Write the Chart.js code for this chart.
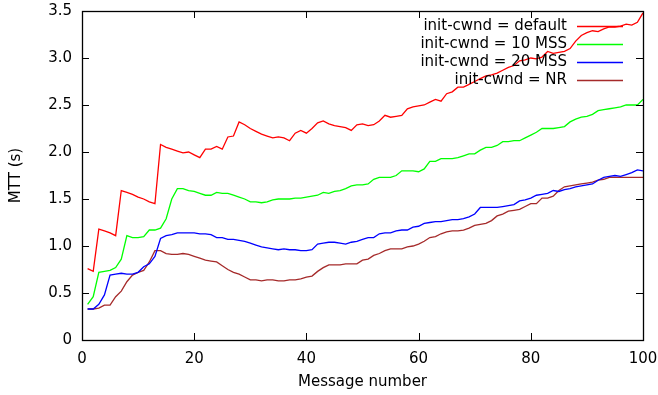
<!DOCTYPE html>
<html>
<head>
<meta charset="utf-8">
<script src="https://cdn.jsdelivr.net/npm/chart.js@4/dist/chart.umd.min.js"></script>
<style>
  html, body { margin: 0; padding: 0; background: #fff; }
  #wrap { width: 658px; height: 395px; }
</style>
</head>
<body>
<div id="wrap"><canvas id="chart" width="658" height="395"></canvas></div>
<script>
// message numbers 1..100
const messages = Array.from({ length: 100 }, (_, i) => i + 1)

const seriesLabels = ['init-cwnd = default', 'init-cwnd = 10 MSS', 'init-cwnd = 20 MSS', 'init-cwnd = NR']
const seriesColors = ['#ff0000', '#00ff00', '#0000ff', '#a52a2a']

const mttDefault = [
  0.76, 0.73, 1.18, 1.16, 1.14, 1.11, 1.59, 1.57, 1.55, 1.52,
  1.50, 1.47, 1.45, 2.08, 2.05, 2.03, 2.01, 1.99, 2.00, 1.97,
  1.94, 2.03, 2.03, 2.06, 2.03, 2.16, 2.17, 2.32, 2.29, 2.25,
  2.22, 2.19, 2.17, 2.15, 2.16, 2.15, 2.12, 2.20, 2.23, 2.20,
  2.25, 2.31, 2.33, 2.30, 2.28, 2.27, 2.26, 2.23, 2.29, 2.30,
  2.28, 2.29, 2.33, 2.39, 2.37, 2.38, 2.39, 2.46, 2.48, 2.49,
  2.50, 2.53, 2.56, 2.54, 2.62, 2.64, 2.69, 2.69, 2.72, 2.75,
  2.78, 2.81, 2.82, 2.84, 2.87, 2.90, 2.92, 2.97, 2.98, 3.00,
  2.99, 3.01, 3.07, 3.05, 3.06, 3.07, 3.10, 3.18, 3.24, 3.27,
  3.29, 3.28, 3.31, 3.33, 3.33, 3.34, 3.36, 3.35, 3.38, 3.48
]
const mtt10 = [
  0.38, 0.46, 0.72, 0.73, 0.74, 0.77, 0.86, 1.11, 1.09, 1.09,
  1.10, 1.17, 1.17, 1.19, 1.29, 1.50, 1.61, 1.61, 1.59, 1.58,
  1.56, 1.54, 1.54, 1.57, 1.56, 1.56, 1.54, 1.52, 1.50, 1.47,
  1.47, 1.46, 1.47, 1.49, 1.50, 1.50, 1.50, 1.51, 1.51, 1.52,
  1.53, 1.54, 1.57, 1.56, 1.58, 1.59, 1.61, 1.64, 1.65, 1.65,
  1.66, 1.71, 1.73, 1.73, 1.73, 1.75, 1.80, 1.80, 1.80, 1.79,
  1.82, 1.90, 1.90, 1.93, 1.93, 1.93, 1.94, 1.96, 1.98, 1.98,
  2.02, 2.05, 2.05, 2.07, 2.11, 2.11, 2.12, 2.12, 2.15, 2.18,
  2.21, 2.25, 2.25, 2.25, 2.26, 2.27, 2.32, 2.35, 2.37, 2.38,
  2.40, 2.44, 2.45, 2.46, 2.47, 2.48, 2.50, 2.50, 2.50, 2.56
]
const mtt20 = [
  0.33, 0.33, 0.38, 0.48, 0.69, 0.70, 0.71, 0.70, 0.70, 0.72,
  0.78, 0.81, 0.89, 1.08, 1.11, 1.12, 1.14, 1.14, 1.14, 1.14,
  1.13, 1.13, 1.12, 1.09, 1.09, 1.07, 1.07, 1.06, 1.05, 1.03,
  1.01, 0.99, 0.98, 0.97, 0.96, 0.97, 0.96, 0.96, 0.95, 0.95,
  0.96, 1.02, 1.03, 1.04, 1.04, 1.03, 1.02, 1.04, 1.05, 1.07,
  1.09, 1.09, 1.13, 1.14, 1.14, 1.16, 1.17, 1.17, 1.20, 1.21,
  1.24, 1.25, 1.26, 1.26, 1.27, 1.28, 1.28, 1.29, 1.31, 1.34,
  1.41, 1.41, 1.41, 1.41, 1.42, 1.43, 1.44, 1.48, 1.49, 1.51,
  1.54, 1.55, 1.56, 1.59, 1.58, 1.60, 1.61, 1.63, 1.64, 1.65,
  1.66, 1.70, 1.73, 1.74, 1.75, 1.74, 1.76, 1.78, 1.81, 1.80
]
const mttNR = [
  0.33, 0.33, 0.34, 0.37, 0.37, 0.46, 0.52, 0.62, 0.69, 0.72,
  0.74, 0.83, 0.95, 0.95, 0.92, 0.91, 0.91, 0.92, 0.91, 0.89,
  0.87, 0.85, 0.84, 0.83, 0.79, 0.75, 0.72, 0.70, 0.67, 0.64,
  0.64, 0.63, 0.64, 0.64, 0.63, 0.63, 0.64, 0.64, 0.65, 0.67,
  0.68, 0.73, 0.77, 0.80, 0.80, 0.80, 0.81, 0.81, 0.81, 0.85,
  0.86, 0.90, 0.92, 0.95, 0.97, 0.97, 0.97, 0.99, 1.00, 1.02,
  1.05, 1.09, 1.10, 1.13, 1.15, 1.16, 1.16, 1.17, 1.19, 1.22,
  1.23, 1.24, 1.27, 1.32, 1.34, 1.37, 1.38, 1.39, 1.42, 1.45,
  1.45, 1.51, 1.51, 1.53, 1.59, 1.63, 1.64, 1.65, 1.66, 1.67,
  1.68, 1.70, 1.71, 1.73, 1.73, 1.73, 1.73, 1.73, 1.73, 1.73
]

const xTicks = [0, 20, 40, 60, 80, 100]
const yTicks = [0, 0.5, 1, 1.5, 2, 2.5, 3, 3.5]

const FONT = 'DejaVu Sans'
const FONT_SIZE = 15

function toPoints(values) {
  return values.map((v, i) => ({ x: messages[i], y: v }))
}

// gnuplot-like frame: box + inward ticks on all four sides, legend top right
const framePlugin = {
  id: 'frame',
  afterDatasetsDraw(chart) {
    const { ctx, chartArea: a, scales } = chart
    const len = 7
    ctx.save()
    ctx.strokeStyle = '#000'
    ctx.lineWidth = 1
    ctx.beginPath()
    xTicks.forEach(t => {
      const px = Math.round(scales.x.getPixelForValue(t)) + 0.5
      ctx.moveTo(px, a.bottom); ctx.lineTo(px, a.bottom - len)
      ctx.moveTo(px, a.top); ctx.lineTo(px, a.top + len)
    })
    yTicks.forEach(t => {
      const py = Math.round(scales.y.getPixelForValue(t)) + 0.5
      ctx.moveTo(a.left, py); ctx.lineTo(a.left + len, py)
      ctx.moveTo(a.right, py); ctx.lineTo(a.right - len, py)
    })
    ctx.stroke()
    ctx.lineWidth = 1.3
    ctx.strokeRect(Math.round(a.left) + 0.5, Math.round(a.top) + 0.5,
      Math.round(a.right - a.left), Math.round(a.bottom - a.top))

    // legend
    ctx.font = FONT_SIZE + 'px "' + FONT + '"'
    ctx.textAlign = 'right'
    ctx.textBaseline = 'middle'
    chart.data.datasets.forEach((ds, i) => {
      const y = 26 + i * 18
      ctx.fillStyle = '#000'
      ctx.fillText(ds.label, 567, y)
      ctx.strokeStyle = ds.borderColor
      ctx.lineWidth = 1.3
      ctx.beginPath()
      ctx.moveTo(577, y + 0.5)
      ctx.lineTo(623, y + 0.5)
      ctx.stroke()
    })
    ctx.restore()
  }
}

const seriesValues = [mttDefault, mtt10, mtt20, mttNR]

new Chart(document.getElementById('chart'), {
  type: 'line',
  data: {
    datasets: seriesValues.map((vals, i) => ({
      label: seriesLabels[i],
      data: toPoints(vals),
      borderColor: seriesColors[i],
      backgroundColor: seriesColors[i],
      borderWidth: 1.3,
      pointRadius: 0,
      tension: 0,
      fill: false
    }))
  },
  options: {
    responsive: false,
    animation: false,
    events: [],
    layout: { padding: { top: 11, right: 15, left: 3, bottom: 0 } },
    plugins: {
      legend: { display: false },
      tooltip: { enabled: false }
    },
    scales: {
      x: {
        type: 'linear',
        min: 0,
        max: 100,
        afterBuildTicks: s => { s.ticks = xTicks.map(v => ({ value: v })) },
        afterFit: s => { s.height = 55; s.paddingLeft = 0; s.paddingRight = 0 },
        grid: { display: false, drawTicks: false },
        border: { display: false },
        ticks: { color: '#000', padding: 10, maxRotation: 0, font: { family: FONT, size: FONT_SIZE } },
        title: { display: true, text: 'Message number', color: '#000', padding: { top: 14 }, font: { family: FONT, size: FONT_SIZE } }
      },
      y: {
        type: 'linear',
        min: 0,
        max: 3.5,
        afterBuildTicks: s => { s.ticks = yTicks.map(v => ({ value: v })) },
        afterFit: s => { s.width = 79; s.paddingTop = 0; s.paddingBottom = 0 },
        grid: { display: false, drawTicks: false },
        border: { display: false },
        ticks: { color: '#000', padding: 10, font: { family: FONT, size: FONT_SIZE } },
        title: { display: true, text: 'MTT (s)', color: '#000', padding: { bottom: 12 }, font: { family: FONT, size: FONT_SIZE } }
      }
    }
  },
  plugins: [framePlugin]
})
</script>
</body>
</html>
